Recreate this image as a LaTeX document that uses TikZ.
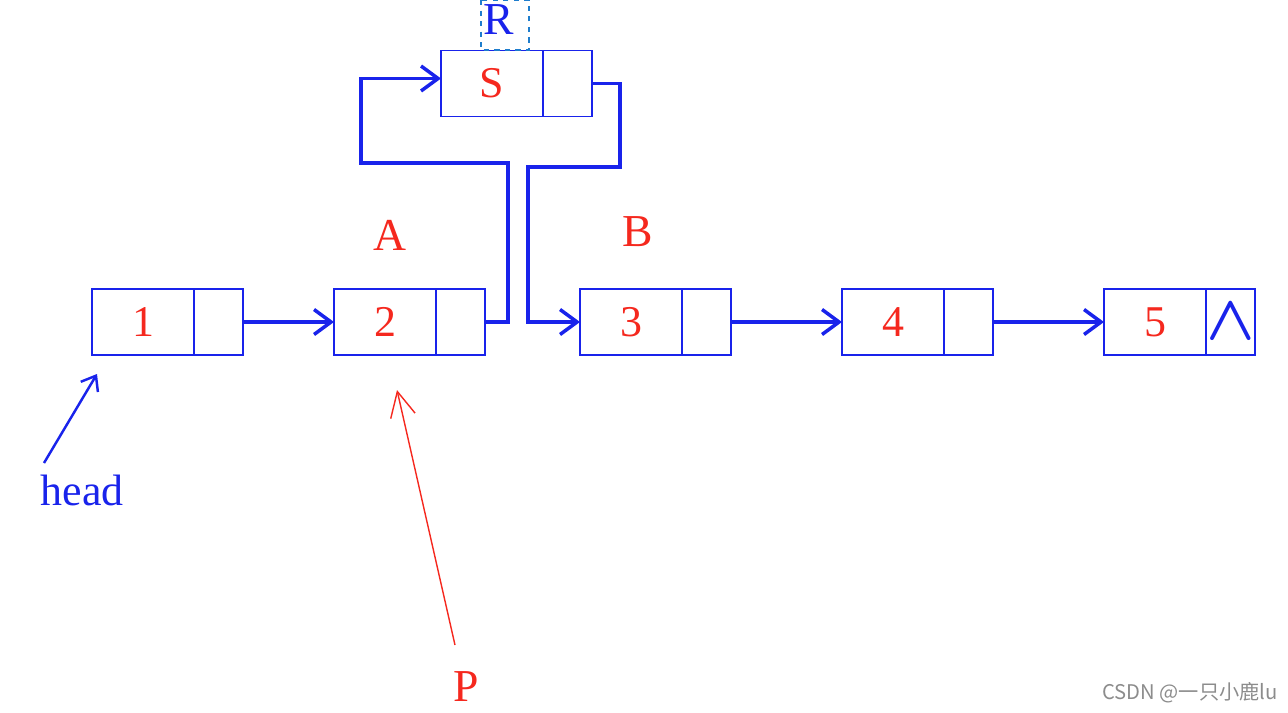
\documentclass[tikz,border=0pt]{standalone}
\usepackage{amsmath}
\usepackage{fontspec}
\setmainfont{Liberation Serif}
\newfontfamily\cjkfont{Noto Sans CJK SC}
\usetikzlibrary{positioning,arrows.meta}

\definecolor{lineblue}{RGB}{25,35,235}
\definecolor{numred}{RGB}{245,40,30}
\definecolor{dashblue}{RGB}{30,125,205}

\begin{document}
\begin{tikzpicture}[x=0.02cm, y=-0.02cm,
    datum/.style={draw=lineblue, line width=1.1pt, minimum width=2.04cm, minimum height=1.32cm,
        inner sep=0pt, outer sep=0pt, text=numred, font=\fontsize{25}{30}\selectfont},
    ptr/.style={draw=lineblue, line width=1.1pt, minimum width=0.98cm, minimum height=1.32cm,
        inner sep=0pt, outer sep=0pt},
    link/.style={draw=lineblue, line width=2pt,
        -{Straight Barb[length=0.34cm, width=0.5cm, line width=2pt]}},
    tag/.style={text=numred, font=\fontsize{26}{30}\selectfont}]

    % marges de la captura
    \useasboundingbox (0,0) rectangle (1288,713);

    % la llista: dada + punter
    \foreach \n/\x in {1/143, 2/385, 3/631, 4/893, 5/1155} {
        \node[datum] (d\n) at (\x,322) {\n};
        \node[ptr, right=0pt of d\n] (p\n) {};
    }
    % punter nul de l'ultim node
    \node[text=lineblue, scale=1.45, font=\fontsize{24}{28}\selectfont] (nil) at (p5) {$\boldsymbol{\wedge}$};

    % el node nou S i el seu nom R
    \node[datum] (dS) at (492,83.5) {S};
    \node[ptr, right=0pt of dS] (pS) {};
    \draw[dashblue, dashed, line width=1.1pt] (481,0) rectangle (529,50);
    \node[text=lineblue, font=\fontsize{26}{30}\selectfont] (R) at (499,20) {R};

    % enllacos
    \draw[link] (p1.east) -- (d2.west);
    \draw[link] (p3.east) -- (d4.west);
    \draw[link] (p4.east) -- (d5.west);

    % 2 -> S i S -> 3
    \coordinate (up2) at (508,163);
    \coordinate (left2) at (361,163);
    \coordinate (downS) at (620,167);
    \coordinate (leftS) at (528,167);
    \draw[link] (p2.east) -| (up2) -- (left2) |- ([yshift=0.1cm]dS.west);
    \draw[link] (pS.east) -| (downS) -- (leftS) |- (d3.west);

    % etiquetes A i B
    \node[tag] (A) at (390,235) {A};
    \node[tag] (B) at (638,232) {B};

    % head
    \node[text=lineblue, font=\fontsize{25}{30}\selectfont] (head) at (82,490) {head};
    \coordinate (headfoot) at (44,463);
    \coordinate (headtip) at (97,374);
    \draw[lineblue, line width=1.4pt, -{Straight Barb[length=0.26cm, width=0.4cm, line width=1.4pt]}]
        (headfoot) -- (headtip);

    % P
    \node[tag] (P) at (466,687) {P};
    \coordinate (Pfoot) at (455,645);
    \coordinate (Ptip) at (397,390);
    \draw[numred, line width=0.8pt, -{Straight Barb[length=0.5cm, width=0.5cm, line width=0.8pt]}]
        (Pfoot) -- (Ptip);

    % marca d'aigua
    \node[text=black!45, font=\cjkfont\fontsize{11.5}{14}\selectfont] (mark) at (1190,693) {CSDN @一只小鹿lu};

\end{tikzpicture}
\end{document}
